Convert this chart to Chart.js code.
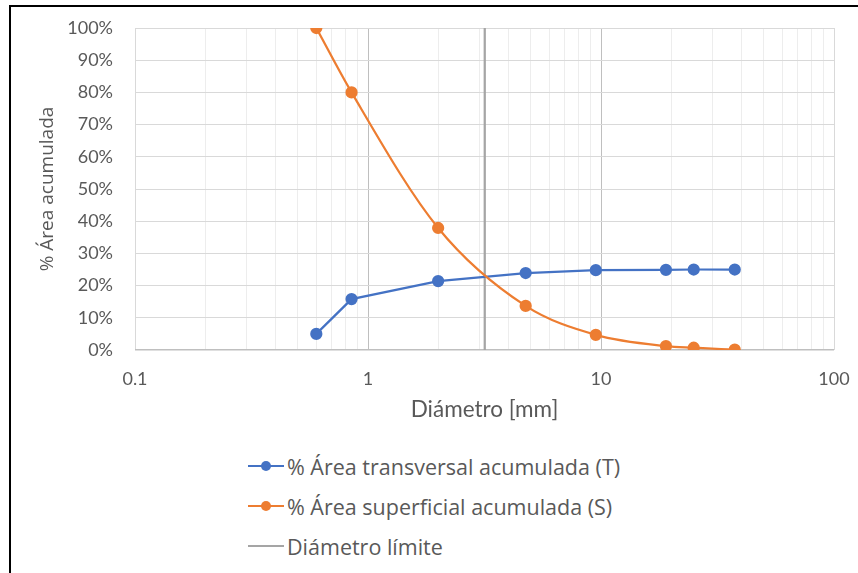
<!DOCTYPE html>
<html>
<head>
<meta charset="utf-8">
<script src="https://cdn.jsdelivr.net/npm/chart.js@4.4.1/dist/chart.umd.min.js"></script>
<style>
    body { margin: 0; background: #fff; width: 858px; height: 573px; overflow: hidden; position: relative; font-family: "Open Sans", Lato, sans-serif; }
    #frame { position: absolute; left: 9px; top: 5px; width: 900px; height: 600px; border-top: 2px solid #000; border-left: 2px solid #000; }
    #wrap { position: absolute; left: 12px; top: 8px; width: 846px; height: 420px; }
    #legend { position: absolute; left: 248px; top: 446px; color: #595959; font-size: 21.5px; }
    .item { display: flex; align-items: center; height: 40px; }
    .mark { position: relative; width: 36px; height: 10px; margin-right: 3px; }
    .mark .ln { position: absolute; left: 0; right: 0; top: 4px; height: 2px; }
    .mark .dot { position: absolute; left: 13px; top: 0; width: 10px; height: 10px; border-radius: 50%; }
</style>
</head>
<body>
<div id="frame"></div>
<div id="wrap"><canvas id="granChart"></canvas></div>
<div id="legend"></div>
<script>
// diámetros de tamiz [mm]
const diametros = [0.6, 0.85, 2, 4.75, 9.5, 19, 25, 37.5];
// % área transversal acumulada (T)
const areaTransversal = [5, 15.8, 21.4, 23.9, 24.8, 24.9, 25, 25];
// % área superficial acumulada (S)
const areaSuperficial = [100, 80, 37.9, 13.7, 4.7, 1.2, 0.7, 0.1];
const diametroLimite = 3.17;
const limiteY = [0, 100];
const xTickLabels = [0.1, 1, 10, 100];

const textColor = "#595959";
const tickFont = { family: "Lato, 'Open Sans', sans-serif", size: 18 };

function toPoints(xs, ys) {
    return xs.map((x, i) => ({ x: x, y: ys[i] }));
}

// all 1..9 multiples in every decade, for the log grid
function logGridTicks() {
    const ticks = [];
    for (let d = 0; d < xTickLabels.length - 1; d++) {
        for (let m = 1; m < 10; m++) {
            ticks.push({ value: +(xTickLabels[d] * m).toPrecision(3) });
        }
    }
    ticks.push({ value: xTickLabels[xTickLabels.length - 1] });
    return ticks;
}

const datasets = [
    {
        label: "% Área transversal acumulada (T)",
        data: toPoints(diametros, areaTransversal),
        borderColor: "#4472C4",
        backgroundColor: "#4472C4",
        borderWidth: 2.25,
        pointRadius: 5,
        pointHoverRadius: 5,
        showLine: true,
        tension: 0,
        order: 2
    },
    {
        label: "% Área superficial acumulada (S)",
        data: toPoints(diametros, areaSuperficial),
        borderColor: "#ED7D31",
        backgroundColor: "#ED7D31",
        borderWidth: 2.25,
        pointRadius: 5,
        pointHoverRadius: 5,
        showLine: true,
        cubicInterpolationMode: "monotone",
        order: 1
    },
    {
        label: "Diámetro límite",
        data: limiteY.map((y) => ({ x: diametroLimite, y: y })),
        borderColor: "#A5A5A5",
        backgroundColor: "#A5A5A5",
        borderWidth: 2.25,
        pointRadius: 0,
        showLine: true,
        order: 3
    }
];

const chart = new Chart(document.getElementById("granChart"), {
    type: "scatter",
    data: { datasets: datasets },
    options: {
        responsive: true,
        maintainAspectRatio: false,
        animation: false,
        layout: { padding: { top: 20, right: 24, bottom: 0, left: 0 } },
        plugins: {
            legend: { display: false },
            tooltip: { enabled: false }
        },
        scales: {
            x: {
                type: "logarithmic",
                min: 0.1,
                max: 100,
                afterBuildTicks: (scale) => { scale.ticks = logGridTicks(); },
                afterFit: (scale) => {
                    // fixed box; tick padding shouldn't push the plot inwards
                    scale.height = 78;
                    scale.paddingLeft = 0;
                    scale.paddingRight = 0;
                },
                ticks: {
                    autoSkip: false,
                    maxRotation: 0,
                    padding: 18,
                    color: textColor,
                    font: tickFont,
                    callback: (value) => xTickLabels.includes(value) ? String(value) : ""
                },
                grid: {
                    drawTicks: false,
                    lineWidth: 1,
                    color: (ctx) => {
                        const v = ctx.tick ? ctx.tick.value : 0;
                        if (v === 1 || v === 10) return "#BFBFBF";
                        if (xTickLabels.includes(v)) return "#D9D9D9";
                        return "#EDEDED";
                    }
                },
                border: { display: false },
                title: {
                    display: true,
                    text: "Diámetro [mm]",
                    color: textColor,
                    font: { family: "Lato, 'Open Sans', sans-serif", size: 22.5 },
                    padding: { top: 0, bottom: 5 }
                }
            },
            y: {
                min: 0,
                max: 100,
                afterFit: (scale) => {
                    scale.width = 123;
                    scale.paddingTop = 0;
                    scale.paddingBottom = 0;
                },
                ticks: {
                    stepSize: 10,
                    padding: 22,
                    color: textColor,
                    font: tickFont,
                    callback: (value) => value + "%"
                },
                grid: {
                    drawTicks: false,
                    color: (ctx) => ctx.tick && ctx.tick.value === 0 ? "#BFBFBF" : "#D9D9D9",
                    lineWidth: (ctx) => ctx.tick && ctx.tick.value === 0 ? 1.5 : 1
                },
                border: { display: false },
                title: {
                    display: true,
                    text: "% Área acumulada",
                    color: textColor,
                    font: { family: "'Open Sans', Lato, sans-serif", size: 19 },
                    padding: { top: 24, bottom: 0 }
                }
            }
        }
    }
});

// legend below the plot, one series per row
const legendEl = document.getElementById("legend");
chart.data.datasets.forEach((ds) => {
    const item = document.createElement("div");
    item.className = "item";
    const mark = document.createElement("span");
    mark.className = "mark";
    const ln = document.createElement("span");
    ln.className = "ln";
    ln.style.background = ds.borderColor;
    mark.appendChild(ln);
    if (ds.pointRadius > 0) {
        const dot = document.createElement("span");
        dot.className = "dot";
        dot.style.background = ds.backgroundColor;
        mark.appendChild(dot);
    }
    const txt = document.createElement("span");
    txt.textContent = ds.label;
    item.appendChild(mark);
    item.appendChild(txt);
    legendEl.appendChild(item);
});
</script>
</body>
</html>
